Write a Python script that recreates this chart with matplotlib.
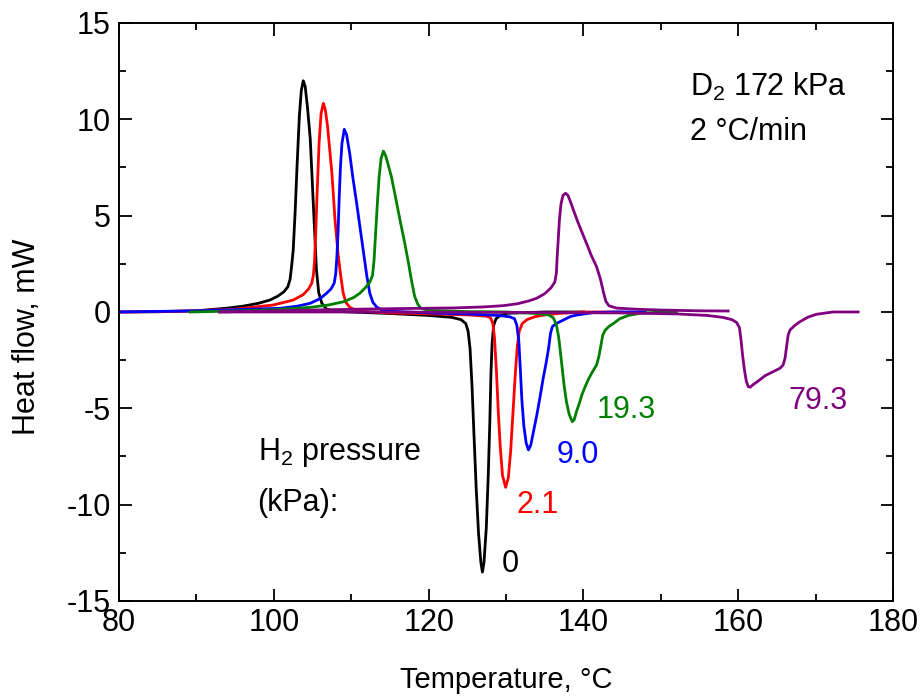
import matplotlib
matplotlib.use('Agg')
import matplotlib.pyplot as plt
from matplotlib.ticker import MultipleLocator

plt.rcParams['font.family'] = ['Liberation Sans', 'DejaVu Sans']
plt.rcParams['mathtext.fontset'] = 'custom'
plt.rcParams['mathtext.rm'] = 'Liberation Sans'
plt.rcParams['axes.unicode_minus'] = False

# H2 pressure 0 kPa
t_0 = [80, 85, 90, 94, 96, 98, 99.5, 100.5, 101.3, 101.8, 102.1, 102.3, 102.5, 102.75, 103.0,
       103.3, 103.55, 103.8, 104.05, 104.35, 104.7, 105.1, 105.5, 105.8, 106.2, 106.8, 108, 110,
       115, 120, 123, 124.2, 124.8, 125.1, 125.35, 125.6, 125.85, 126.15, 126.45, 126.75, 126.95,
       127.15, 127.45, 127.7, 127.9, 128.05, 128.2, 128.4, 128.7, 129.2, 130.1, 135, 140]
q_0 = [0.0, 0.01, 0.06, 0.2, 0.3, 0.45, 0.62, 0.82, 1.05, 1.3, 1.7, 2.4, 3.2, 5.2, 7.6,
       10.2, 11.5, 12.0, 11.7, 10.6, 9.0, 5.6, 2.2, 1.0, 0.45, 0.15, 0.03, 0.0,
       -0.08, -0.18, -0.28, -0.4, -0.6, -1.0, -1.9, -3.8, -6.3, -9.2, -11.5, -13.0, -13.5,
       -13.0, -11.2, -8.5, -5.8, -3.2, -1.6, -0.7, -0.35, -0.2, -0.07, 0.0, 0.0]

# H2 pressure 2.1 kPa
t_2 = [80, 85, 90, 95, 99.9, 102.5, 103.8, 104.5, 104.9, 105.1, 105.25, 105.4, 105.6, 105.85,
       106.1, 106.4, 106.65, 106.95, 107.2, 107.5, 107.9, 108.3, 108.6, 108.95, 109.3, 109.8,
       110.5, 112, 115, 120, 125, 127.5, 128.0, 128.3, 128.5, 128.75, 129.0, 129.25, 129.55,
       129.95, 130.3, 130.6, 130.9, 131.2, 131.45, 131.7, 132.1, 132.7, 133.7, 134.8, 137, 140, 145]
q_2 = [0.0, 0.02, 0.06, 0.15, 0.36, 0.62, 0.9, 1.2, 1.5, 1.9, 2.6, 4.0, 6.3, 8.8,
       10.3, 10.83, 10.5, 9.6, 8.5, 7.2, 4.8, 3.0, 2.0, 1.0, 0.5, 0.25,
       0.1, 0.02, -0.05, -0.1, -0.15, -0.22, -0.3, -0.6, -1.3, -3.0, -5.2, -7.0, -8.5,
       -9.1, -8.6, -7.2, -5.2, -3.2, -1.8, -1.0, -0.6, -0.4, -0.25, -0.16, -0.07, 0.0, 0.0]

# H2 pressure 9.0 kPa
t_9 = [80, 85, 90, 95, 100.8, 103, 104.7, 106, 106.8, 107.4, 107.8, 108.0, 108.15, 108.3,
       108.45, 108.6, 108.8, 109.1, 109.4, 109.8, 110.2, 110.7, 111.2, 111.6, 112.0, 112.4,
       112.8, 113.3, 114, 115, 120, 125, 129, 130.5, 131.1, 131.4, 131.65, 131.85, 132.05,
       132.3, 132.6, 132.9, 133.2, 133.6, 134.0, 134.4, 134.8, 135.2, 135.5, 135.75, 136.0,
       136.5, 137.0, 138.3, 139.1, 141.3, 144, 148]
q_9 = [0.0, 0.03, 0.06, 0.12, 0.19, 0.3, 0.45, 0.7, 0.97, 1.2, 1.5, 2.0, 2.9, 4.2,
       6.0, 7.5, 8.75, 9.48, 9.2, 8.23, 7.0, 5.64, 4.2, 3.05, 1.9, 0.97,
       0.5, 0.25, 0.1, 0.04, -0.05, -0.1, -0.18, -0.25, -0.35, -0.7, -1.5, -3.0, -4.6,
       -5.9, -6.8, -7.16, -6.9, -6.1, -5.3, -4.4, -3.44, -2.6, -1.88, -1.1, -0.75,
       -0.6, -0.5, -0.24, -0.16, -0.03, 0.0, 0.0]

# H2 pressure 19.3 kPa
t_19 = [89.2, 95, 100, 104.7, 107, 109, 110.3, 111.1, 111.8, 112.4, 112.75, 112.95, 113.15,
        113.4, 113.6, 113.85, 114.15, 114.45, 114.8, 115.2, 115.7, 116.3, 116.9, 117.4, 117.8,
        118.2, 118.6, 119.0, 120, 125, 130, 134, 135.5, 136.1, 136.5, 136.8, 137.0, 137.25,
        137.5, 137.8, 138.15, 138.55, 138.8, 139.1, 139.5, 139.8, 140.2, 140.6, 141.1, 141.7,
        142.0, 142.25, 142.5, 142.8, 143.3, 143.9, 144.7, 145.8, 147.3, 150, 152]
q_19 = [0.0, 0.05, 0.12, 0.24, 0.36, 0.53, 0.75, 0.97, 1.25, 1.55, 1.9, 2.7, 4.1,
        5.8, 7.0, 7.95, 8.35, 8.1, 7.6, 7.0, 6.0, 4.77, 3.6, 2.53, 1.6,
        0.8, 0.4, 0.2, 0.08, 0.02, 0.0, -0.08, -0.15, -0.3, -0.65, -1.3, -2.0, -2.9,
        -3.8, -4.65, -5.3, -5.69, -5.6, -5.17, -4.7, -4.3, -3.9, -3.53, -3.15, -2.75,
        -2.3, -1.75, -1.2, -0.95, -0.75, -0.59, -0.35, -0.18, -0.07, 0.0, 0.0]

# H2 pressure 79.3 kPa, exotherm
t_79a = [93, 100, 105, 110, 115, 118.9, 123.2, 127, 129.7, 131.5, 133, 134.0, 135, 135.8,
         136.3, 136.5, 136.6, 136.75, 136.9, 137.1, 137.35, 137.7, 138.0, 138.3, 138.7, 139.2,
         139.8, 140.4, 141.0, 141.7, 142.2, 142.6, 142.9, 143.3, 144.3, 147, 150, 155, 158.7]
q_79a = [0.0, 0.06, 0.1, 0.14, 0.17, 0.19, 0.21, 0.26, 0.33, 0.43, 0.58, 0.72, 0.95, 1.25,
         1.55, 2.0, 2.8, 3.8, 4.8, 5.6, 6.05, 6.16, 6.05, 5.75, 5.3, 4.75,
         4.15, 3.56, 2.95, 2.35, 1.7, 1.0, 0.55, 0.32, 0.2, 0.14, 0.1, 0.06, 0.05]

# H2 pressure 79.3 kPa, endotherm
t_79b = [93, 110, 130, 145, 152, 156, 158, 159.2, 159.8, 160.15, 160.35, 160.55, 160.8, 161.05,
         161.3, 161.55, 162.0, 162.6, 163.5, 164.5, 165.4, 165.8, 166.05, 166.25, 166.45, 166.7,
         167.3, 168.0, 169.0, 170.1, 171.5, 172.3, 175.5]
q_79b = [0.0, 0.0, -0.02, -0.05, -0.1, -0.18, -0.28, -0.4, -0.55, -0.8, -1.4, -2.2, -3.0, -3.6,
         -3.88, -3.9, -3.75, -3.58, -3.3, -3.1, -2.92, -2.75, -2.4, -1.8, -1.2, -0.93,
         -0.7, -0.5, -0.27, -0.12, -0.04, 0.0, 0.0]

series = [(t_0, q_0, 'black'), (t_2, q_2, 'red'), (t_9, q_9, 'blue'),
          (t_19, q_19, 'green'), (t_79a, q_79a, 'purple'), (t_79b, q_79b, 'purple')]

labels = ['0', '2.1', '9.0', '19.3', '79.3']
label_x = [130.5, 134.1, 139.3, 145.5, 170.3]
label_y = [-13.1, -10.0, -7.4, -5.1, -4.6]
label_c = ['black', 'red', 'blue', 'green', 'purple']

fs = 22

fig = plt.figure(figsize=(9.23, 6.96), dpi=100)
ax = fig.add_axes([0.129, 0.1365, 0.8385, 0.8305])

for t, q, c in series:
    ax.plot(t, q, color=c, lw=2.0)

for s, x, y, c in zip(labels, label_x, label_y, label_c):
    ax.text(x, y, s, color=c, fontsize=fs, ha='center', va='center')

ax.text(97.9, -7.3, r'H$\mathregular{_2}$ pressure', fontsize=fs, va='center')
ax.text(97.9, -9.9, '(kPa):', fontsize=fs, va='center')
ax.text(153.8, 11.7, r'D$\mathregular{_2}$ 172 kPa', fontsize=fs, va='center')
ax.text(153.8, 9.35, '2 °C/min', fontsize=fs, va='center')

ax.set_xlim(80, 180)
ax.set_ylim(-15, 15)
ax.xaxis.set_major_locator(MultipleLocator(20))
ax.xaxis.set_minor_locator(MultipleLocator(10))
ax.yaxis.set_major_locator(MultipleLocator(5))
ax.yaxis.set_minor_locator(MultipleLocator(2.5))
ax.tick_params(which='both', direction='in', top=True, right=True, labelsize=fs, width=1.3)
ax.tick_params(which='major', length=9)
ax.tick_params(which='minor', length=5)
ax.tick_params(axis='x', pad=5)
ax.tick_params(axis='y', pad=6)
for sp in ax.spines.values():
    sp.set_linewidth(1.4)

ax.set_xlabel('Temperature, °C', fontsize=21)
ax.set_ylabel('Heat flow, mW', fontsize=22)
ax.xaxis.set_label_coords(0.5, -0.112)
ax.yaxis.set_label_coords(-0.1, 0.457)

fig.savefig('out.png', dpi=100)
